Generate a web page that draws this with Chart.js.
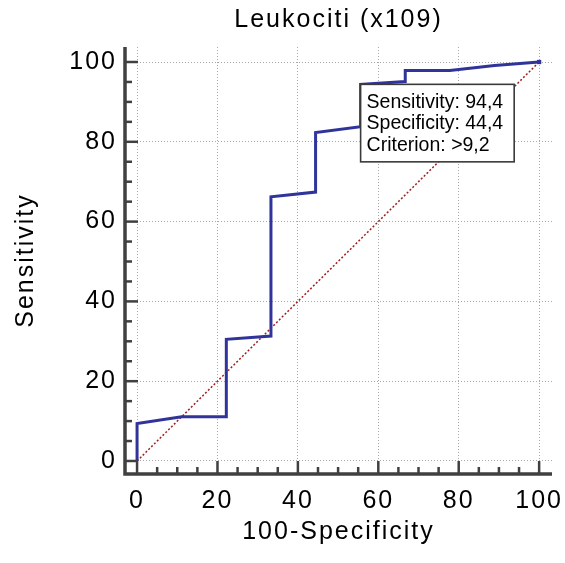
<!DOCTYPE html>
<html>
<head>
<meta charset="utf-8">
<script src="https://cdn.jsdelivr.net/npm/chart.js@4/dist/chart.umd.min.js"></script>
<style>
  html, body { margin: 0; padding: 0; background: #ffffff; }
  #c { display: block; }
</style>
</head>
<body>
<canvas id="c" width="565" height="563"></canvas>
<script>
// ---- data ----
const chartTitle = 'Leukociti (x109)';
const xAxisTitle = '100-Specificity';
const yAxisTitle = 'Sensitivity';
const majorTicks = [0, 20, 40, 60, 80, 100];
const minorTickStep = 5;

// ROC curve: x = 100-Specificity, y = Sensitivity
const rocFalsePositive = [0, 0, 11.1, 22.2, 22.2, 33.3, 33.3, 44.4, 44.4, 55.6, 55.6, 66.7, 66.7, 77.8, 88.9, 100];
const rocSensitivity   = [0, 9.4, 11.1, 11.1, 30.5, 31.3, 66.2, 67.4, 82.3, 83.8, 94.4, 95.1, 97.9, 97.9, 99.1, 100];

// reference (chance) diagonal
const diagonalX = [0, 100];
const diagonalY = [0, 100];

// optimal criterion box
const criterionSensitivity = 94.4;
const criterionSpecificity = 44.4;
const criterionLabel = '>9,2';

// ---- build ----
const toPoints = (xs, ys) => xs.map((x, i) => ({ x: x, y: ys[i] }));
const fmt = v => v.toFixed(1).replace('.', ',');

const FONT = "'Liberation Sans', Arial, Helvetica, sans-serif";
const AXIS_COLOR = '#404040';

const spacingPlugin = {
  id: 'spacing',
  beforeUpdate(chart) { chart.ctx.letterSpacing = '2px'; },
  beforeDraw(chart) { chart.ctx.letterSpacing = '2px'; }
};

const axesPlugin = {
  id: 'axesTicks',
  afterDatasetsDraw(chart) {
    const ctx = chart.ctx;
    const ca = chart.chartArea;
    const xs = chart.scales.x, ys = chart.scales.y;
    ctx.save();
    ctx.letterSpacing = '0px';
    ctx.strokeStyle = AXIS_COLOR;
    ctx.lineCap = 'butt';
    // axis lines
    ctx.lineWidth = 3.5;
    ctx.lineJoin = 'miter';
    ctx.beginPath();
    ctx.moveTo(ca.left, ca.top);
    ctx.lineTo(ca.left, ca.bottom);
    ctx.lineTo(ca.right, ca.bottom);
    ctx.stroke();
    // inward ticks
    ctx.lineWidth = 2.5;
    const lo = majorTicks[0], hi = majorTicks[majorTicks.length - 1];
    for (let v = lo; v <= hi + 1e-9; v += minorTickStep) {
      const major = majorTicks.indexOf(v) !== -1;
      const len = major ? 13 : 7;
      const px = xs.getPixelForValue(v);
      ctx.beginPath();
      ctx.moveTo(px, ca.bottom);
      ctx.lineTo(px, ca.bottom - len);
      ctx.stroke();
      const py = ys.getPixelForValue(v);
      ctx.beginPath();
      ctx.moveTo(ca.left, py);
      ctx.lineTo(ca.left + len, py);
      ctx.stroke();
    }
    ctx.restore();

    // criterion box anchored at the criterion point
    const bx = xs.getPixelForValue(100 - criterionSpecificity);
    const by = ys.getPixelForValue(criterionSensitivity);
    const lines = [
      'Sensitivity: ' + fmt(criterionSensitivity),
      'Specificity: ' + fmt(criterionSpecificity),
      'Criterion: ' + criterionLabel
    ];
    ctx.save();
    ctx.letterSpacing = '0px';
    ctx.font = '19.5px ' + FONT;
    let tw = 0;
    lines.forEach(l => { tw = Math.max(tw, ctx.measureText(l).width); });
    const lineH = 21.7;
    const w = tw + 17;
    const h = 23.4 + lineH * (lines.length - 1) + 10.7;
    ctx.fillStyle = '#ffffff';
    ctx.fillRect(bx, by, w, h);
    ctx.strokeStyle = '#3a3a3a';
    ctx.lineWidth = 1.6;
    ctx.strokeRect(bx, by, w, h);
    ctx.fillStyle = '#000000';
    ctx.textBaseline = 'alphabetic';
    ctx.textAlign = 'left';
    lines.forEach((l, i) => ctx.fillText(l, bx + 6, by + 23.4 + i * lineH));
    ctx.restore();
  }
};

const majorTickObjs = () => majorTicks.map(v => ({ value: v }));

new Chart(document.getElementById('c'), {
  type: 'scatter',
  data: {
    datasets: [
      {
        label: 'ROC',
        data: toPoints(rocFalsePositive, rocSensitivity),
        showLine: true,
        borderColor: '#30349a',
        backgroundColor: '#30349a',
        borderWidth: 3,
        borderJoinStyle: 'miter',
        tension: 0,
        pointRadius: ctx => ctx.dataIndex === rocFalsePositive.length - 1 ? 3 : 0,
        pointStyle: 'rect',
        pointBorderWidth: 0,
        order: 1
      },
      {
        label: 'Reference',
        data: toPoints(diagonalX, diagonalY),
        showLine: true,
        borderColor: '#a01e1e',
        borderWidth: 1.5,
        borderDash: [2, 2],
        pointRadius: 0,
        tension: 0,
        order: 2
      }
    ]
  },
  options: {
    responsive: false,
    animation: false,
    events: [],
    layout: { padding: { left: 0, right: 13, top: 0, bottom: 0 } },
    plugins: {
      legend: { display: false },
      tooltip: { enabled: false },
      title: {
        display: true,
        text: chartTitle,
        fullSize: false,
        color: '#000000',
        font: { family: FONT, size: 25, weight: 'normal', lineHeight: 1.2 },
        padding: { top: 5.5, bottom: 11.5 }
      }
    },
    scales: {
      x: {
        type: 'linear',
        position: 'bottom',
        min: -3,
        max: 103.2,
        afterBuildTicks: s => { s.ticks = majorTickObjs(); },
        afterFit: s => { s.height = 89; s.paddingLeft = 0; s.paddingRight = 0; },
        ticks: {
          color: '#000000',
          font: { family: FONT, size: 25, lineHeight: 1.2 },
          padding: 12,
          maxRotation: 0,
          autoSkip: false
        },
        grid: { color: '#a8a8a8', lineWidth: 1, drawTicks: false },
        border: { display: false, dash: [1, 2] },
        title: {
          display: true,
          text: xAxisTitle,
          color: '#000000',
          font: { family: FONT, size: 25, lineHeight: 1.2 },
          padding: { top: 0, bottom: 16.3 }
        }
      },
      y: {
        type: 'linear',
        position: 'left',
        min: -3.26,
        max: 103.76,
        afterBuildTicks: s => { s.ticks = majorTickObjs(); },
        afterFit: s => { s.width = 125; s.paddingTop = 0; s.paddingBottom = 0; },
        ticks: {
          color: '#000000',
          font: { family: FONT, size: 25, lineHeight: 1.2 },
          padding: 8,
          autoSkip: false
        },
        grid: { color: '#a8a8a8', lineWidth: 1, drawTicks: false },
        border: { display: false, dash: [1, 2] },
        title: {
          display: true,
          text: yAxisTitle,
          color: '#000000',
          font: { family: FONT, size: 25, lineHeight: 1.2 },
          padding: { top: 11, bottom: 0 }
        }
      }
    }
  },
  plugins: [spacingPlugin, axesPlugin]
});
</script>
</body>
</html>
